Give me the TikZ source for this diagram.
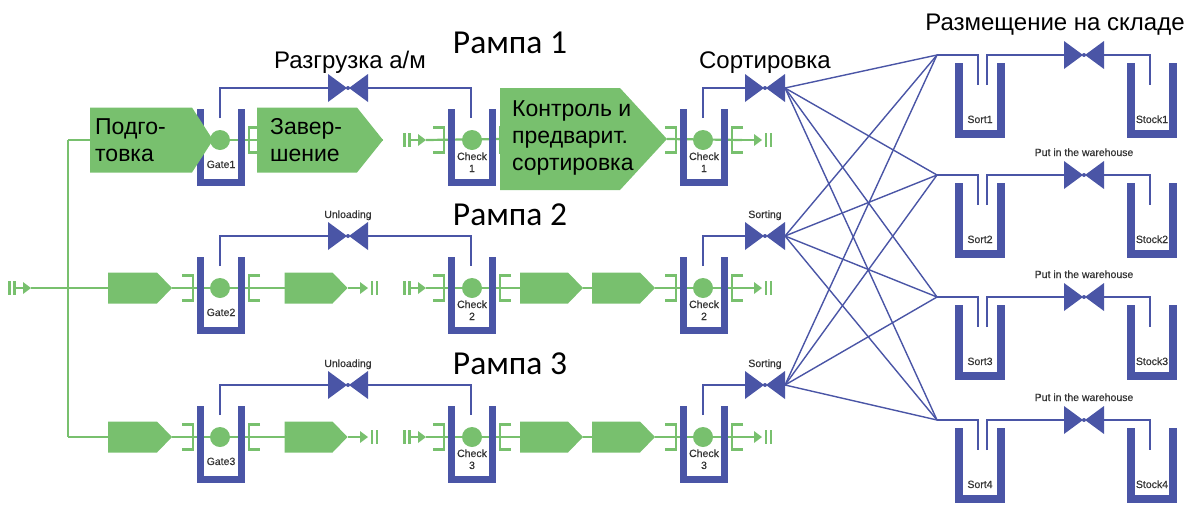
\documentclass[tikz,border=0pt]{standalone}
\usepackage{fontspec}
\setmainfont{Liberation Sans}
\newfontfamily\carl{Carlito}
\newfontfamily\labfont[FakeBold=0.4]{Liberation Sans}
\usetikzlibrary{backgrounds}
\definecolor{gr}{HTML}{78C06E}
\definecolor{bl}{HTML}{4A55A6}
\definecolor{lt}{HTML}{333333}
\tikzset{
  gline/.style={draw=gr, line width=2.2pt},
  bline/.style={draw=bl, line width=1.6pt},
  fline/.style={draw=bl, line width=1.4pt},
  pent/.style={rectangle, inner sep=0pt, outer sep=0pt,
    path picture={\fill[gr] (path picture bounding box.north west)
      -- ([xshift=-#1pt]path picture bounding box.north east)
      -- (path picture bounding box.east)
      -- ([xshift=-#1pt]path picture bounding box.south east)
      -- (path picture bounding box.south west) -- cycle;}},
  gbin/.style={rectangle, inner sep=0pt, outer sep=0pt, minimum width=48pt, minimum height=77pt,
    path picture={\draw[bl, line width=7pt]
      ([xshift=3.5pt]path picture bounding box.north west)
      -- ([xshift=3.5pt,yshift=3.5pt]path picture bounding box.south west)
      -- ([xshift=-3.5pt,yshift=3.5pt]path picture bounding box.south east)
      -- ([xshift=-3.5pt]path picture bounding box.north east);}},
  sbin/.style={rectangle, inner sep=0pt, outer sep=0pt, minimum width=50pt, minimum height=75pt,
    path picture={\draw[bl, line width=8pt]
      ([xshift=4pt]path picture bounding box.north west)
      -- ([xshift=4pt,yshift=4pt]path picture bounding box.south west)
      -- ([xshift=-4pt,yshift=4pt]path picture bounding box.south east)
      -- ([xshift=-4pt]path picture bounding box.north east);}},
  valve/.style={rectangle, inner sep=0pt, outer sep=0pt, minimum width=40pt, minimum height=28pt,
    path picture={\fill[bl] (path picture bounding box.north west) -- ([xshift=-1pt]path picture bounding box.center)
      -- (path picture bounding box.south west) -- cycle;
      \fill[bl] (path picture bounding box.north east) -- ([xshift=1pt]path picture bounding box.center)
      -- (path picture bounding box.south east) -- cycle;
      \fill[bl] (path picture bounding box.center) circle (2pt);}},
  dot/.style={circle, fill=gr, minimum size=20pt, inner sep=0pt},
  lab/.style={font=\labfont\fontsize{10.5}{12}\selectfont, text=lt, inner sep=0pt},
  hd/.style={font=\fontsize{24}{28}\selectfont, text=black, inner sep=0pt},
  rp/.style={font=\carl\fontsize{33.5}{36}\selectfont, text=black, inner sep=0pt},
  ptxt/.style={font=\fontsize{23}{27}\selectfont, text=black, align=left, inner sep=0pt, anchor=west},
  src/.pic={\fill[gr] (0,-7) rectangle (2.5,7); \fill[gr] (5,-7) rectangle (7.5,7);
    \draw[gr, line width=2.2pt] (7.5,0) -- (16,0); \fill[gr] (15,-6) -- (23,0) -- (15,6) -- cycle;
    \coordinate (-o) at (23,0);},
  sink/.pic={\draw[gr, line width=2.2pt] (0,0) -- (13,0); \fill[gr] (12,-6) -- (20,0) -- (12,6) -- cycle;
    \fill[gr] (22.5,-7) rectangle (25,7); \fill[gr] (27.5,-7) rectangle (30,7);
    \coordinate (-i) at (0,0);},
  lbrk/.pic={\draw[gr, line width=2.2pt] (-15,-12.5) -- (-4,-12.5) -- (-4,12.5) -- (-15,12.5);},
  rbrk/.pic={\draw[gr, line width=2.2pt] (15,-12.5) -- (4,-12.5) -- (4,12.5) -- (15,12.5);}
}
\begin{document}
\begin{tikzpicture}[x=1pt,y=-1pt]
\useasboundingbox (0,0) rectangle (1192,504);
% ---------- per-row common parts ----------
\foreach \r/\c in {1/140,2/288,3/437}{
  \pic at (197,\c) {lbrk}; \pic at (245,\c) {rbrk};
  \pic at (448,\c) {lbrk}; \pic at (496,\c) {rbrk};
  \pic at (680,\c) {lbrk}; \pic at (728,\c) {rbrk};
  \node[gbin] (gb\r) at (221,\c+7.5) {};
  \node[gbin] (cb\r) at (472,\c+7.5) {};
  \node[gbin] (kb\r) at (704,\c+7.5) {};
  \node[dot] (gd\r) at (220,\c) {};
  \node[dot] (cd\r) at (472,\c) {};
  \node[dot] (kd\r) at (703,\c) {};
  \pic (ea\r) at (348,\c) {sink};
  \pic (eb\r) at (742,\c) {sink};
  \pic (ra\r) at (403,\c) {src};
  \node[lab, anchor=base] (gl\r) at (221,\c+28) {Gate\r};
  \node[lab, anchor=base] (cl\r) at (472,\c+20) {Check};
  \node[lab, anchor=base] (cn\r) at (472,\c+32) {\r};
  \node[lab, anchor=base] (kl\r) at (704,\c+20) {Check};
  \node[lab, anchor=base] (kn\r) at (704,\c+32) {\r};
  \coordinate (gt\r) at (220,\c-22);
  \coordinate (ct\r) at (471,\c-22);
  \coordinate (kt\r) at (703,\c-22);
  \node[valve] (u\r) at (348,\c-52) {};
  \node[valve] (so\r) at (765,\c-52) {};
}
% ---------- row 1 pentagons ----------
\node[pent=21, minimum width=123pt, minimum height=65pt] (p11) at (151.5,140) {};
\node[pent=26, minimum width=126pt, minimum height=65pt] (p12) at (320,140) {};
\node[pent=47, minimum width=167pt, minimum height=102pt] (p13) at (583.5,139) {};
\node[ptxt] (t1) at (95,140) {Подго-\\товка};
\node[ptxt] (t2) at (270,140) {Завер-\\шение};
\node[ptxt] (t3) at (512,138) {Контроль и\\предварит.\\сортировка};
% ---------- rows 2,3 pentagons ----------
\foreach \r/\c in {2/288,3/437}{
  \node[pent=15, minimum width=64pt, minimum height=31pt] (pa\r) at (140,\c) {};
  \node[pent=15, minimum width=63pt, minimum height=31pt] (pb\r) at (316,\c) {};
  \node[pent=15, minimum width=63pt, minimum height=31pt] (pc\r) at (551.5,\c) {};
  \node[pent=15, minimum width=63pt, minimum height=31pt] (pd\r) at (623.5,\c) {};
  \node[lab, anchor=base] (ul\r) at (348,\c-70) {Unloading};
  \node[lab, anchor=base] (sl\r) at (765,\c-70) {Sorting};
}
% ---------- entry ----------
\pic (src0) at (8,288) {src};
\coordinate (j1) at (68,140); \coordinate (j2) at (68,288); \coordinate (j3) at (68,437);
% ---------- storage side ----------
\foreach \k/\F in {1/55,2/175,3/297,4/420}{
  \coordinate (f\k) at (937,\F);
  \node[sbin] (sr\k) at (980,\F+45.5) {};
  \node[sbin] (sk\k) at (1152,\F+45.5) {};
  \node[valve] (w\k) at (1084,\F) {};
  \coordinate (si\k) at (978,\F+30);
  \coordinate (sx\k) at (987,\F+30);
  \coordinate (ti\k) at (1150,\F+30);
  \node[lab, anchor=base] (srl\k) at (980,\F+68) {Sort\k};
  \node[lab, anchor=base] (skl\k) at (1152,\F+68) {Stock\k};
}
\foreach \k/\F in {2/175,3/297,4/420}{
  \node[lab, anchor=base] (wl\k) at (1084,\F-19) {Put in the warehouse};
}
% ---------- headings ----------
\node[rp, anchor=base] (r1) at (510,53) {Рампа 1};
\node[rp, anchor=base] (r2) at (510,225) {Рампа 2};
\node[rp, anchor=base] (r3) at (510,374) {Рампа 3};
\node[hd, anchor=base] (h1) at (350,68) {Разгрузка а/м};
\node[hd, anchor=base] (h2) at (765,68) {Сортировка};
\node[hd, anchor=base] (h3) at (1055,30) {Размещение на складе};
% ---------- connectors (behind) ----------
\begin{scope}[on background layer]
  \draw[gline] (src0-o) -- (pa2.west);
  \draw[gline] (j1) -- (j3);
  \draw[gline] (j1) -- (p11.west);
  \draw[gline] (j3) -- (pa3.west);
  \draw[gline] (p11.east) -- (p12.west);
  \draw[gline] (p12.east) -- (ea1-i);
  \draw[gline] (ra1-o) -- (p13.west);
  \draw[gline] (p13.east) -- (eb1-i);
  \foreach \r in {2,3}{
    \draw[gline] (pa\r.east) -- (pb\r.west);
    \draw[gline] (pb\r.east) -- (ea\r-i);
    \draw[gline] (ra\r-o) -- (pc\r.west);
    \draw[gline] (pc\r.east) -- (pd\r.west);
    \draw[gline] (pd\r.east) -- (eb\r-i);
  }
  \foreach \r in {1,2,3}{
    \draw[bline] (gt\r) |- (u\r.west);
    \draw[bline] (u\r.east) -| (ct\r);
    \draw[bline] (kt\r) |- (so\r.west);
    \foreach \k in {1,2,3,4}{ \draw[fline] (so\r.east) -- (f\k); }
  }
  \foreach \k in {1,2,3,4}{
    \draw[bline] (f\k) -| (si\k);
    \draw[bline] (sx\k) |- (w\k.west);
    \draw[bline] (w\k.east) -| (ti\k);
  }
\end{scope}
\end{tikzpicture}
\end{document}
